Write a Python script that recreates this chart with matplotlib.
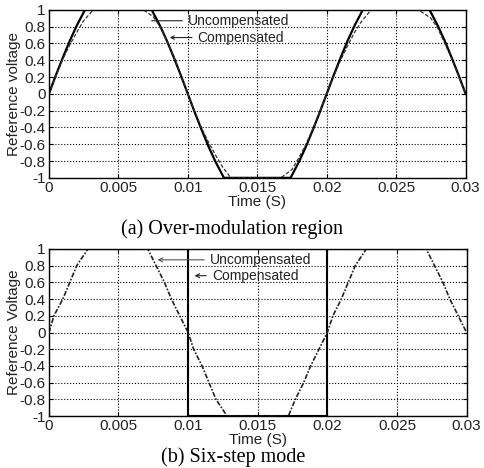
import matplotlib
matplotlib.use("Agg")
import matplotlib.pyplot as plt

plt.rcParams['font.family'] = ['Liberation Sans', 'DejaVu Sans']

# (a) over-modulation region
t_a_unc = [0, 0.0005, 0.001, 0.0015, 0.002, 0.0026, 0.0074, 0.008, 0.0085, 0.009, 0.0095, 0.01,
           0.0105, 0.011, 0.0115, 0.012, 0.0126, 0.0174, 0.018, 0.0185, 0.019, 0.0195, 0.02,
           0.0205, 0.021, 0.0215, 0.022, 0.0226, 0.0274, 0.028, 0.0285, 0.029, 0.0295, 0.03]
v_a_unc = [0, 0.22, 0.43, 0.63, 0.81, 1, 1, 0.81, 0.63, 0.43, 0.22, 0,
           -0.22, -0.43, -0.63, -0.81, -1, -1, -0.81, -0.63, -0.43, -0.22, 0,
           0.22, 0.43, 0.63, 0.81, 1, 1, 0.81, 0.63, 0.43, 0.22, 0]

t_a_comp = [0, 0.0005, 0.001, 0.0015, 0.002, 0.0025, 0.0032, 0.0068, 0.0075, 0.008, 0.0085, 0.009, 0.0095, 0.01,
            0.0105, 0.011, 0.0115, 0.012, 0.0125, 0.0131, 0.0167, 0.0175, 0.018, 0.0185, 0.019, 0.0195, 0.02,
            0.0205, 0.021, 0.0215, 0.022, 0.0225, 0.0232, 0.0266, 0.0275, 0.028, 0.0285, 0.029, 0.0295, 0.03]
v_a_comp = [0, 0.21, 0.41, 0.58, 0.73, 0.87, 1, 1, 0.92, 0.8, 0.63, 0.44, 0.23, 0,
            -0.21, -0.41, -0.58, -0.73, -0.87, -1, -1, -0.9, -0.76, -0.6, -0.42, -0.21, 0,
            0.21, 0.4, 0.57, 0.73, 0.86, 1, 1, 0.9, 0.78, 0.6, 0.42, 0.21, 0]

# (b) six-step mode
t_b_unc = [0, 0.00036, 0.001, 0.0015, 0.002, 0.0028, 0.0071, 0.0077, 0.0083, 0.0088, 0.0094, 0.01,
           0.0104, 0.011, 0.0115, 0.012, 0.0128, 0.0172, 0.0177, 0.0183, 0.0188, 0.0194, 0.02,
           0.0204, 0.021, 0.0215, 0.022, 0.0228, 0.0271, 0.0277, 0.0283, 0.0288, 0.0294, 0.03]
v_b_unc = [0, 0.2, 0.4, 0.6, 0.8, 1, 1, 0.8, 0.6, 0.4, 0.2, 0,
           -0.2, -0.4, -0.6, -0.8, -1, -1, -0.8, -0.6, -0.4, -0.2, 0,
           0.2, 0.4, 0.6, 0.8, 1, 1, 0.8, 0.6, 0.4, 0.2, 0]

t_b_comp = [0, 0, 0.01, 0.01, 0.02, 0.02, 0.03]
v_b_comp = [0, 1, 1, -1, -1, 1, 1]

x_ticks = [0, 0.005, 0.01, 0.015, 0.02, 0.025, 0.03]
x_labels = ['0', '0.005', '0.01', '0.015', '0.02', '0.025', '0.03']
y_ticks = [1, 0.8, 0.6, 0.4, 0.2, 0, -0.2, -0.4, -0.6, -0.8, -1]
y_labels = ['1', '0.8', '0.6', '0.4', '0.2', '0', '-0.2', '-0.4', '-0.6', '-0.8', '-1']

txt = '#222222'

fig = plt.figure(figsize=(4.84, 4.68), dpi=100)
ax1 = fig.add_axes([0.101, 0.620, 0.861, 0.359])
ax2 = fig.add_axes([0.101, 0.111, 0.863, 0.357])


def style(ax, ylabel):
    ax.set_xlim(0, 0.03)
    ax.set_ylim(-1, 1)
    ax.set_xticks(x_ticks)
    ax.set_xticklabels(x_labels)
    ax.set_yticks(y_ticks)
    ax.set_yticklabels(y_labels)
    ax.tick_params(direction='in', length=3, labelsize=11, labelcolor=txt,
                   top=True, right=True)
    ax.tick_params(axis='x', pad=2)
    ax.tick_params(axis='y', pad=2.5)
    ax.grid(True, color='black', linestyle=':', linewidth=0.8)
    for s in ax.spines.values():
        s.set_linewidth(1.0)
    ax.set_xlabel('Time (S)', fontsize=11, color=txt, labelpad=0)
    ax.set_ylabel(ylabel, fontsize=11, color=txt, labelpad=-1)


ax1.plot(t_a_unc, v_a_unc, color='black', linewidth=1.6)
ax1.plot(t_a_comp, v_a_comp, color='#333333', linewidth=0.9, linestyle=(0, (3, 1.5)))
style(ax1, 'Reference voltage')
ax1.annotate('Uncompensated', xy=(0.0072, 0.87), xytext=(0.0100, 0.87),
             fontsize=10, color=txt, va='center',
             arrowprops=dict(arrowstyle='-', color='#222222', lw=0.8))
ax1.annotate('Compensated', xy=(0.0085, 0.67), xytext=(0.0107, 0.67),
             fontsize=10, color=txt, va='center',
             arrowprops=dict(arrowstyle='->', color='#222222', lw=0.8,
                             mutation_scale=6))

ax2.plot(t_b_comp, v_b_comp, color='black', linewidth=1.5)
ax2.plot(t_b_unc, v_b_unc, color='#222222', linewidth=1.2, linestyle=(0, (3, 1, 1, 1)))
style(ax2, 'Reference Voltage')
ax2.annotate('Uncompensated', xy=(0.0076, 0.87), xytext=(0.01156, 0.87),
             fontsize=10, color=txt, va='center',
             arrowprops=dict(arrowstyle='->', color='#555555', lw=0.8,
                             mutation_scale=7))
ax2.annotate('Compensated', xy=(0.01026, 0.68), xytext=(0.0117, 0.68),
             fontsize=10, color=txt, va='center',
             arrowprops=dict(arrowstyle='->', color='#222222', lw=0.8,
                             mutation_scale=7))

fig.text(0.479, 0.511, '(a) Over-modulation region', ha='center', va='center',
         fontsize=14.5, family='Liberation Serif', color='black')
fig.text(0.481, 0.024, '(b) Six-step mode', ha='center', va='center',
         fontsize=14.5, family='Liberation Serif', color='black')

fig.savefig('out.png', dpi=100)
